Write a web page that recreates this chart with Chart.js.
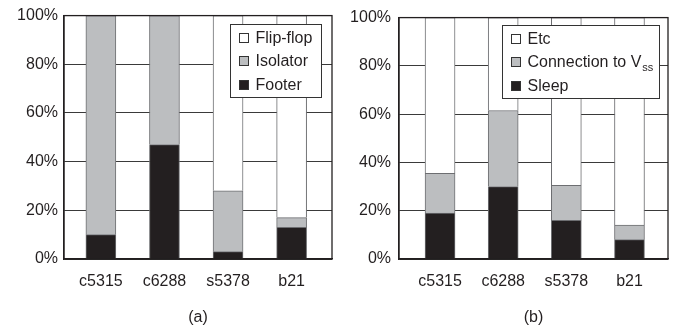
<!DOCTYPE html>
<html>
<head>
<meta charset="utf-8">
<script src="https://cdn.jsdelivr.net/npm/chart.js@4"></script>
<style>
  html, body { margin: 0; padding: 0; background: #fff; }
  #wrap { position: relative; width: 676px; height: 329px; }
  .box { position: absolute; top: 0; width: 338px; height: 329px; }
  #boxA { left: 0; }
  #boxB { left: 338px; }
</style>
</head>
<body>
<div id="wrap">
  <div class="box" id="boxA"><canvas id="chartA"></canvas></div>
  <div class="box" id="boxB"><canvas id="chartB"></canvas></div>
</div>
<script>
// ---- data ----
const categories = ['c5315', 'c6288', 's5378', 'b21'];
const yTickValues = [0, 20, 40, 60, 80, 100];

// (a)
const footer   = [10, 47, 3, 13];
const isolator = [90, 53, 25, 4];
const flipflop = [0, 0, 72, 83];

// (b)
const sleep   = [19, 30, 16, 8];
const connVss = [16.5, 31.5, 14.5, 6];
const etc     = [64.5, 38.5, 69.5, 86];

// ---- styles ----
const FONT = "'Liberation Sans', Arial, Helvetica, sans-serif";
const TXT = '#231f20';
const BLACK = '#231f20';
const GRAY = '#bcbec0';
const WHITE = '#ffffff';

function pts(arr) { return arr.map((v, i) => ({ x: i, y: v })); }

const boxLegend = {
  id: 'boxLegend',
  afterDraw(chart, args, opts) {
    const ctx = chart.ctx;
    const ca = chart.chartArea;
    const items = chart.data.datasets.slice().reverse();
    ctx.save();
    ctx.font = '16px ' + FONT;
    const sw = 9, pad = 9, gap = 7, row = opts.row;
    let maxW = 0;
    items.forEach(d => {
      let w = ctx.measureText(d.label).width;
      if (d.sub) { ctx.font = '11px ' + FONT; w += ctx.measureText(d.sub).width + 1; ctx.font = '16px ' + FONT; }
      maxW = Math.max(maxW, w);
    });
    const bw = Math.round(pad + sw + gap + maxW + opts.padR);
    const bh = Math.round(row * items.length + 3);
    const bx = Math.round(ca.right - opts.right - bw) + 0.5;
    const by = Math.round(ca.top + opts.top) + 0.5;
    ctx.fillStyle = '#fff';
    ctx.fillRect(bx, by, bw, bh);
    ctx.strokeStyle = '#333';
    ctx.lineWidth = 1;
    ctx.strokeRect(bx, by, bw, bh);
    items.forEach((d, i) => {
      const cy = by + 1.5 + row / 2 + i * row;
      const sy = Math.round(cy - sw / 2) + 0.5;
      ctx.fillStyle = d.backgroundColor;
      ctx.fillRect(bx + pad, sy, sw, sw);
      ctx.strokeStyle = '#333';
      ctx.strokeRect(bx + pad, sy, sw, sw);
      ctx.fillStyle = TXT;
      ctx.textBaseline = 'middle';
      ctx.textAlign = 'left';
      ctx.font = '16px ' + FONT;
      const tx = bx + pad + sw + gap;
      ctx.fillText(d.label, tx, cy + 1);
      if (d.sub) {
        const w = ctx.measureText(d.label).width;
        ctx.font = '11px ' + FONT;
        ctx.fillText(d.sub, tx + w + 1, cy + 6);
      }
    });
    ctx.restore();
  }
};

const frame = {
  id: 'frame',
  afterDatasetsDraw(chart) {
    const ctx = chart.ctx, ca = chart.chartArea;
    ctx.save();
    ctx.strokeStyle = '#231f20';
    ctx.lineWidth = 1.3;
    ctx.strokeRect(ca.left, ca.top, ca.right - ca.left, ca.bottom - ca.top);
    ctx.restore();
  }
};

function makeChart(id, sets, cfg) {
  return new Chart(document.getElementById(id), {
    type: 'bar',
    data: {
      datasets: sets.map(s => ({
        label: s.label,
        sub: s.sub,
        data: pts(s.data),
        backgroundColor: s.color,
        borderColor: '#6d6e71',
        borderWidth: 1,
        barThickness: 30
      }))
    },
    options: {
      responsive: true,
      maintainAspectRatio: false,
      animation: false,
      layout: { padding: { top: 14, right: cfg.padRight, bottom: 0, left: 0 } },
      plugins: {
        legend: { display: false },
        tooltip: { enabled: false },
        boxLegend: cfg.legend
      },
      scales: {
        x: {
          type: 'linear',
          stacked: true,
          min: cfg.xmin,
          max: cfg.xmax,
          offset: false,
          grid: { display: false, drawTicks: false },
          border: { display: true, color: '#231f20', width: 1.3 },
          afterBuildTicks: s => { s.ticks = categories.map((c, i) => ({ value: i })); },
          afterFit: s => { s.height = 70; },
          ticks: {
            autoSkip: false,
            maxRotation: 0,
            padding: 13,
            color: TXT,
            font: { family: FONT, size: 16 },
            callback: v => categories[v]
          },
          title: {
            display: true,
            text: cfg.title,
            color: TXT,
            font: { family: FONT, size: 16 },
            padding: { top: 0, bottom: 2 }
          }
        },
        y: {
          stacked: true,
          min: 0,
          max: 100,
          afterBuildTicks: s => { s.ticks = yTickValues.map(v => ({ value: v })); },
          afterFit: s => { s.width = cfg.yWidth; },
          grid: { color: '#3a3a3a', lineWidth: 1, drawTicks: false },
          border: { display: true, color: '#231f20', width: 1.3 },
          ticks: {
            padding: cfg.yPad,
            color: TXT,
            font: { family: FONT, size: 16 },
            callback: v => v + '%'
          }
        }
      }
    },
    plugins: [frame, boxLegend]
  });
}

makeChart('chartA', [
  { label: 'Footer', data: footer, color: BLACK },
  { label: 'Isolator', data: isolator, color: GRAY },
  { label: 'Flip-flop', data: flipflop, color: WHITE }
], { title: '(a)', xmin: -0.58, xmax: 3.635, yWidth: 64, yPad: 6, padRight: 6,
     legend: { right: 11, top: 8, row: 23.3, padR: 9 } });

makeChart('chartB', [
  { label: 'Sleep', data: sleep, color: BLACK },
  { label: 'Connection to V', sub: 'ss', data: connVss, color: GRAY },
  { label: 'Etc', data: etc, color: WHITE }
], { title: '(b)', xmin: -0.65, xmax: 3.61, yWidth: 61, yPad: 8, padRight: 8,
     legend: { right: 9, top: 7, row: 23.3, padR: 6 } });
</script>
</body>
</html>
